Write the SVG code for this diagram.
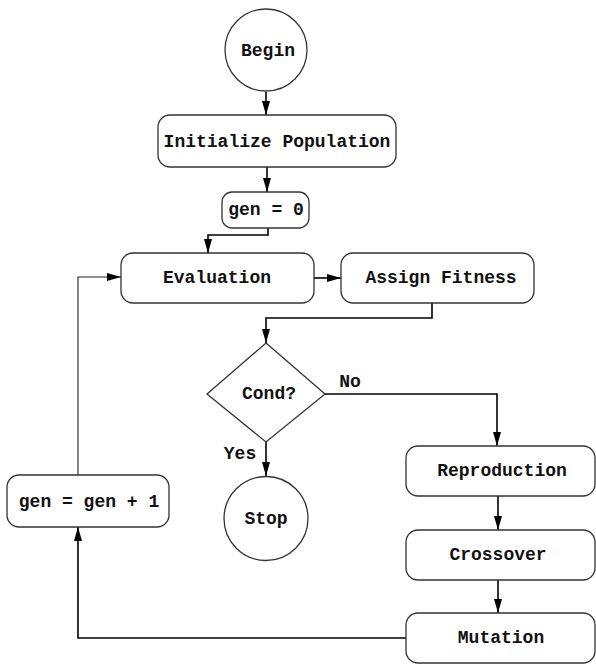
<svg xmlns="http://www.w3.org/2000/svg" width="596" height="665" viewBox="0 0 596 665">
<style>
.box{fill:#fff;stroke:#333;stroke-width:1.3}
.t{font-family:"Liberation Mono","Courier New",monospace;font-weight:bold;font-size:18px;fill:#111;text-anchor:middle}
.c{fill:none;stroke:#000;stroke-width:1.6}
.thin{fill:none;stroke:#222;stroke-width:1.1}
</style>
<defs>
<marker id="ah" markerWidth="14" markerHeight="8" refX="14" refY="4" orient="auto" markerUnits="userSpaceOnUse">
<path d="M0,0 L14,4 L0,8 z" fill="#000"/>
</marker>
</defs>
<rect width="596" height="665" fill="#fff"/>
<g id="connectors">
<line class="c" x1="266" y1="92" x2="266" y2="115" marker-end="url(#ah)"/>
<line class="c" x1="267" y1="167" x2="267" y2="192" marker-end="url(#ah)"/>
<polyline class="c" points="268,228 268,235 208,235 208,253" marker-end="url(#ah)"/>
<line class="c" x1="314" y1="278" x2="341" y2="278" marker-end="url(#ah)"/>
<polyline class="c" points="432,303 432,318 266,318 266,343" marker-end="url(#ah)"/>
<polyline class="c" points="325,394 497,394 497,446" marker-end="url(#ah)"/>
<line class="c" x1="266" y1="442" x2="266" y2="476" marker-end="url(#ah)"/>
<line class="c" x1="498" y1="496" x2="498" y2="530" marker-end="url(#ah)"/>
<line class="c" x1="498" y1="580" x2="498" y2="613" marker-end="url(#ah)"/>
<polyline class="c" points="406,638 78,638 78,527" marker-end="url(#ah)"/>
<polyline class="thin" points="78,475 78,277 121,277" marker-end="url(#ah)"/>
<text class="t" x="350" y="387">No</text>
<text class="t" x="240" y="459">Yes</text>
</g>
<g id="begin">
<circle class="box" cx="266" cy="50" r="41"/>
<text class="t" x="268" y="56">Begin</text>
</g>
<g id="init">
<rect class="box" x="158" y="115" width="238" height="52" rx="12"/>
<text class="t" x="277" y="147">Initialize Population</text>
</g>
<g id="gen0">
<rect class="box" x="222" y="192" width="87" height="36" rx="10"/>
<text class="t" x="266" y="215">gen = 0</text>
</g>
<g id="evaluation">
<rect class="box" x="121" y="253" width="193" height="50" rx="12"/>
<text class="t" x="217" y="283">Evaluation</text>
</g>
<g id="fitness">
<rect class="box" x="341" y="253" width="193" height="50" rx="12"/>
<text class="t" x="441" y="283">Assign Fitness</text>
</g>
<g id="cond">
<polygon class="box" points="266,343 325,394 266,442 207,394"/>
<text class="t" x="269" y="399">Cond?</text>
</g>
<g id="stop">
<circle class="box" cx="266" cy="518.5" r="42"/>
<text class="t" x="266" y="524">Stop</text>
</g>
<g id="genplus">
<rect class="box" x="7" y="475" width="162" height="52" rx="12"/>
<text class="t" x="89" y="507">gen = gen + 1</text>
</g>
<g id="reproduction">
<rect class="box" x="406" y="446" width="189" height="50" rx="12"/>
<text class="t" x="502" y="476">Reproduction</text>
</g>
<g id="crossover">
<rect class="box" x="406" y="530" width="189" height="50" rx="12"/>
<text class="t" x="498" y="560">Crossover</text>
</g>
<g id="mutation">
<rect class="box" x="406" y="613" width="189" height="50" rx="12"/>
<text class="t" x="501" y="643">Mutation</text>
</g>
</svg>
